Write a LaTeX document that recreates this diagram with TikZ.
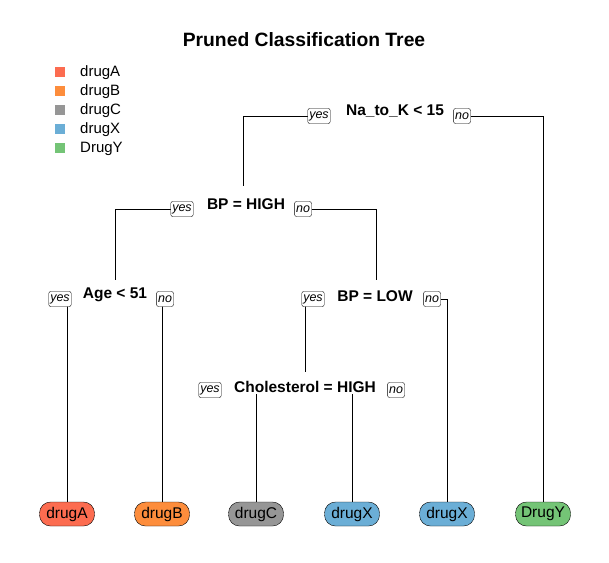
\documentclass[tikz,border=0pt]{standalone}
\usepackage{fontspec}
\setmainfont{Liberation Sans}
\usetikzlibrary{backgrounds}
\definecolor{cA}{RGB}{252,108,80}
\definecolor{cB}{RGB}{253,141,60}
\definecolor{cC}{RGB}{150,150,150}
\definecolor{cX}{RGB}{107,174,214}
\definecolor{cY}{RGB}{116,196,118}
\begin{document}
\begin{tikzpicture}[x=1pt,y=-1pt,
  split/.style={font=\fontsize{15.5}{18}\selectfont\bfseries, fill=white, inner sep=1pt},
  yn/.style={draw, rounded corners=2pt, fill=white, font=\fontsize{12.5}{14}\selectfont\itshape, inner xsep=1.5pt, inner ysep=0pt, minimum height=15pt},
  leaf/.style={draw, rounded corners=11pt, minimum width=55pt, minimum height=24pt, inner sep=0pt, font=\fontsize{15.5}{18}\selectfont},
  edge/.style={line width=0.6pt},
  legsq/.style={minimum size=10pt, inner sep=0pt},
  legtx/.style={anchor=west, inner sep=0pt, font=\fontsize{15}{18}\selectfont}]
\useasboundingbox (0,0) rectangle (609,562);
% title
\node[font=\fontsize{19.3}{22}\selectfont\bfseries] (title) at (304,40) {Pruned Classification Tree};
% legend
\node[legsq, fill=cA] (sqA) at (60,72) {};
\node[legsq, fill=cB] (sqB) at (60,91) {};
\node[legsq, fill=cC] (sqC) at (60,110) {};
\node[legsq, fill=cX] (sqX) at (60,129) {};
\node[legsq, fill=cY] (sqY) at (60,148) {};
\node[legtx] (tA) at (80,73) {drugA};
\node[legtx] (tB) at (80,92) {drugB};
\node[legtx] (tC) at (80,111) {drugC};
\node[legtx] (tX) at (80,130) {drugX};
\node[legtx] (tY) at (80,149) {DrugY};
% split nodes
\node[split] (root) at (395,111) {Na\_to\_K < 15};
\node[yn] (ryes) at (319,116) {yes};
\node[yn] (rno) at (462,116) {no};
\node[split] (bph) at (246,204) {BP = HIGH};
\node[yn] (byes) at (182,209) {yes};
\node[yn] (bno) at (303,209) {no};
\node[split] (age) at (115,295) {Age < 51};
\node[yn] (ayes) at (60,299) {yes};
\node[yn] (ano) at (165,299) {no};
\node[split] (bpl) at (375,296) {BP = LOW};
\node[yn] (lyes) at (313,299) {yes};
\node[yn] (lno) at (432,299) {no};
\node[split] (chol) at (305,387) {Cholesterol = HIGH};
\node[yn] (cyes) at (210,390) {yes};
\node[yn] (cno) at (396,390) {no};
% leaves
\node[leaf, fill=cA] (lA) at (67,514) {drugA};
\node[leaf, fill=cB] (lB) at (162,514) {drugB};
\node[leaf, fill=cC] (lC) at (256,514) {drugC};
\node[leaf, fill=cX] (lX1) at (352,514) {drugX};
\node[leaf, fill=cX] (lX2) at (447,514) {drugX};
\node[leaf, fill=cY] (lY) at (543,514) {DrugY};
% branch tops
\coordinate (bphtop) at (243,186);
\coordinate (agetop) at (115,280);
\coordinate (bpltop) at (376,280);
\coordinate (choltop) at (305,372);
\begin{pgfonlayer}{background}
\fill[white] (0,0) rectangle (609,562);
\draw[edge] (ryes.west) -| (bphtop);
\draw[edge] (rno.east) -| (lY.north);
\draw[edge] (byes.west) -| (agetop);
\draw[edge] (bno.east) -| (bpltop);
\draw[edge] (lA.north |- ayes.center) -- (lA.north);
\draw[edge] (lB.north |- ano.center) -- (lB.north);
\draw[edge] (choltop |- lyes.center) -- (choltop);
\draw[edge] (lno.east) -| (lX2.north);
\draw[edge] (lC.north |- chol.center) -- (lC.north);
\draw[edge] (lX1.north |- chol.center) -- (lX1.north);
\end{pgfonlayer}
\end{tikzpicture}
\end{document}
